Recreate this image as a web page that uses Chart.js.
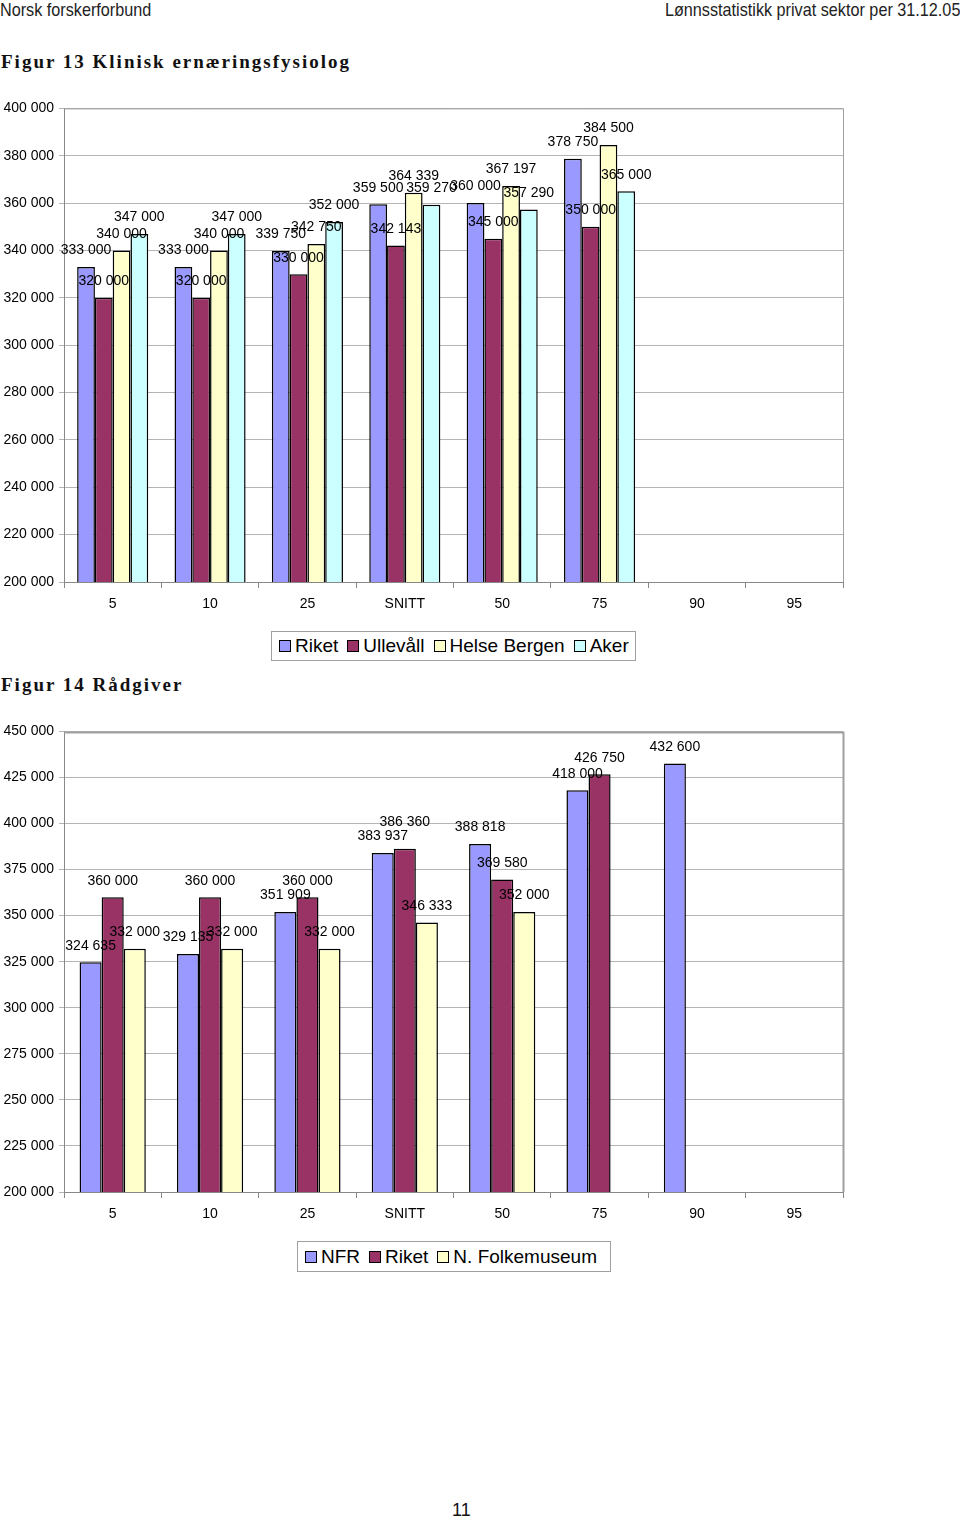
<!DOCTYPE html>
<html>
<head>
<meta charset="utf-8">
<script src="https://cdn.jsdelivr.net/npm/chart.js@4/dist/chart.umd.min.js"></script>
<style>
  html, body { margin:0; padding:0; background:#fff; }
  body { width:960px; height:1518px; position:relative; overflow:hidden; font-family:"Liberation Sans", Arial, sans-serif; }
  .hdr { position:absolute; top:-1px; font-family:"Liberation Sans", Arial, sans-serif; font-size:19px; color:#222; white-space:nowrap; transform:scaleX(0.853); }
  .title { position:absolute; left:1px; font-family:"Liberation Serif","DejaVu Serif",serif; font-weight:bold; font-size:19px; letter-spacing:2px; color:#111; white-space:nowrap; }
  .cv { position:absolute; left:0; }
  .legend { position:absolute; border:1px solid #a0a0a0; background:#fff; display:flex; align-items:center; font-size:19px; color:#000; box-sizing:border-box; padding-left:7px; white-space:nowrap; }
  .legend .it { display:flex; align-items:center; margin-right:9px; }
  .legend .sw { width:12px; height:12px; border:1.5px solid #000; margin-right:4px; box-sizing:border-box; }
  .pn { position:absolute; left:452px; top:1500px; font-size:18px; color:#111; }
</style>
</head>
<body>
<div class="hdr" style="left:0;transform-origin:left top;">Norsk forskerforbund</div>
<div class="hdr" style="right:0;transform-origin:right top;">Lønnsstatistikk privat sektor per 31.12.05</div>
<div class="title" style="top:51px;">Figur 13 Klinisk ernæringsfysiolog</div>
<div class="title" style="top:674px;">Figur 14 Rådgiver</div>
<div class="cv" style="top:95px;width:860px;height:525px;"><canvas id="c1"></canvas></div>
<div class="legend" id="lg1" style="left:271px;top:631px;width:365px;height:30px;"></div>
<div class="cv" style="top:718px;width:860px;height:512px;"><canvas id="c2"></canvas></div>
<div class="legend" id="lg2" style="left:297px;top:1241px;width:314px;height:31px;"></div>
<div class="pn">11</div>
<script>
// ---- data ----
const categories = ["5", "10", "25", "SNITT", "50", "75", "90", "95"];

// Figur 13 Klinisk ernæringsfysiolog
const fig13Riket       = [333000, 333000, 339750, 359500, 360000, 378750, null, null];
const fig13Ulleval     = [320000, 320000, 330000, 342143, 345000, 350000, null, null];
const fig13HelseBergen = [340000, 340000, 342750, 364339, 367197, 384500, null, null];
const fig13Aker        = [347000, 347000, 352000, 359270, 357290, 365000, null, null];
const fig13Names = ["Riket", "Ullevåll", "Helse Bergen", "Aker"];

// Figur 14 Rådgiver
const fig14NFR        = [324635, 329135, 351909, 383937, 388818, 418000, 432600, null];
const fig14Riket      = [360000, 360000, 360000, 386360, 369580, 426750, null, null];
const fig14Folkemuseum= [332000, 332000, 332000, 346333, 352000, null, null, null];
const fig14Names = ["NFR", "Riket", "N. Folkemuseum"];

const fig13Ticks = [200000, 220000, 240000, 260000, 280000, 300000, 320000, 340000, 360000, 380000, 400000];
const fig14Ticks = [200000, 225000, 250000, 275000, 300000, 325000, 350000, 375000, 400000, 425000, 450000];

// ---- styling ----
const cBlue = "#9999FF", cPlum = "#993366", cIvory = "#FFFFCC", cCyan = "#CCFFFF";
const FONT = "'Liberation Sans', Arial, sans-serif";

function fmt(v) { return String(v).replace(/\B(?=(\d{3})+(?!\d))/g, " "); }

const labelPlugin = {
  id: "valueLabels",
  afterDatasetsDraw(chart) {
    const ctx = chart.ctx;
    ctx.save();
    ctx.font = "14px " + FONT;
    ctx.fillStyle = "#000";
    ctx.textAlign = "center";
    ctx.textBaseline = "middle";
    const placed = [];
    chart.data.datasets.forEach((ds, i) => {
      const meta = chart.getDatasetMeta(i);
      meta.data.forEach((el, j) => {
        const v = ds.data[j];
        if (v === null || v === undefined) return;
        const txt = fmt(v);
        const w = ctx.measureText(txt).width;
        let x = el.x, y = el.y - 16.5;
        // simple collision avoidance for nearly coincident labels
        placed.forEach(p => {
          if (Math.abs(p.x - x) < w * 0.6 && Math.abs(p.y - y) < 8) {
            y = p.y - 14;
          }
        });
        placed.push({ x, y });
        ctx.fillText(txt, x, y);
      });
    });
    ctx.restore();
  }
};

function framePlugin(w, col) {
  return {
    id: "frame",
    afterDraw(chart) {
      const a = chart.chartArea, ctx = chart.ctx;
      ctx.save();
      ctx.strokeStyle = col;
      ctx.lineWidth = w;
      ctx.beginPath();
      ctx.moveTo(a.left, a.top + w/2);
      ctx.lineTo(a.right, a.top + w/2);
      ctx.moveTo(a.right + 0.5, a.top);
      ctx.lineTo(a.right + 0.5, a.bottom);
      ctx.stroke();
      ctx.restore();
    }
  };
}

function makeChart(id, names, series, colors, ticks, catPct, frameW) {
  const datasets = series.map((d, i) => ({
    label: names[i],
    data: d,
    backgroundColor: colors[i],
    borderColor: "#000",
    borderWidth: 1.5,
    categoryPercentage: catPct,
    barPercentage: 1.0
  }));
  return new Chart(document.getElementById(id), {
    type: "bar",
    data: { labels: categories, datasets },
    options: {
      responsive: true,
      maintainAspectRatio: false,
      animation: false,
      devicePixelRatio: 1,
      layout: { padding: { top: 13, right: 17, left: 0, bottom: 0 } },
      plugins: { legend: { display: false }, tooltip: { enabled: false } },
      scales: {
        x: {
          grid: { display: true, drawOnChartArea: false, drawTicks: true, tickLength: 6, color: "#888", offset: true },
          border: { display: true, color: "#888", width: 1 },
          ticks: { color: "#000", font: { size: 14, family: FONT }, padding: 8, maxRotation: 0, autoSkip: false },
          afterFit(s) { s.height = 38; }
        },
        y: {
          min: ticks[0], max: ticks[ticks.length - 1],
          afterBuildTicks(s) { s.ticks = ticks.map(v => ({ value: v })); },
          grid: { color: "#b4b4b4", lineWidth: 1, drawTicks: true, tickLength: 5 },
          border: { display: true, color: "#888", width: 1 },
          ticks: { color: "#000", font: { size: 14, family: FONT }, padding: 5, callback: v => fmt(v) },
          afterFit(s) { s.width = 64; }
        }
      }
    },
    plugins: [labelPlugin, framePlugin(frameW, "#a0a0a0")]
  });
}

makeChart("c1", fig13Names, [fig13Riket, fig13Ulleval, fig13HelseBergen, fig13Aker],
          [cBlue, cPlum, cIvory, cCyan], fig13Ticks, 0.73, 1);
makeChart("c2", fig14Names, [fig14NFR, fig14Riket, fig14Folkemuseum],
          [cBlue, cPlum, cIvory], fig14Ticks, 0.68, 2);

function buildLegend(id, names, colors) {
  const el = document.getElementById(id);
  names.forEach((n, i) => {
    const it = document.createElement("div"); it.className = "it";
    const sw = document.createElement("div"); sw.className = "sw"; sw.style.background = colors[i];
    const t = document.createElement("span"); t.textContent = n;
    it.appendChild(sw); it.appendChild(t); el.appendChild(it);
  });
}
buildLegend("lg1", fig13Names, [cBlue, cPlum, cIvory, cCyan]);
buildLegend("lg2", fig14Names, [cBlue, cPlum, cIvory]);
</script>
</body>
</html>
